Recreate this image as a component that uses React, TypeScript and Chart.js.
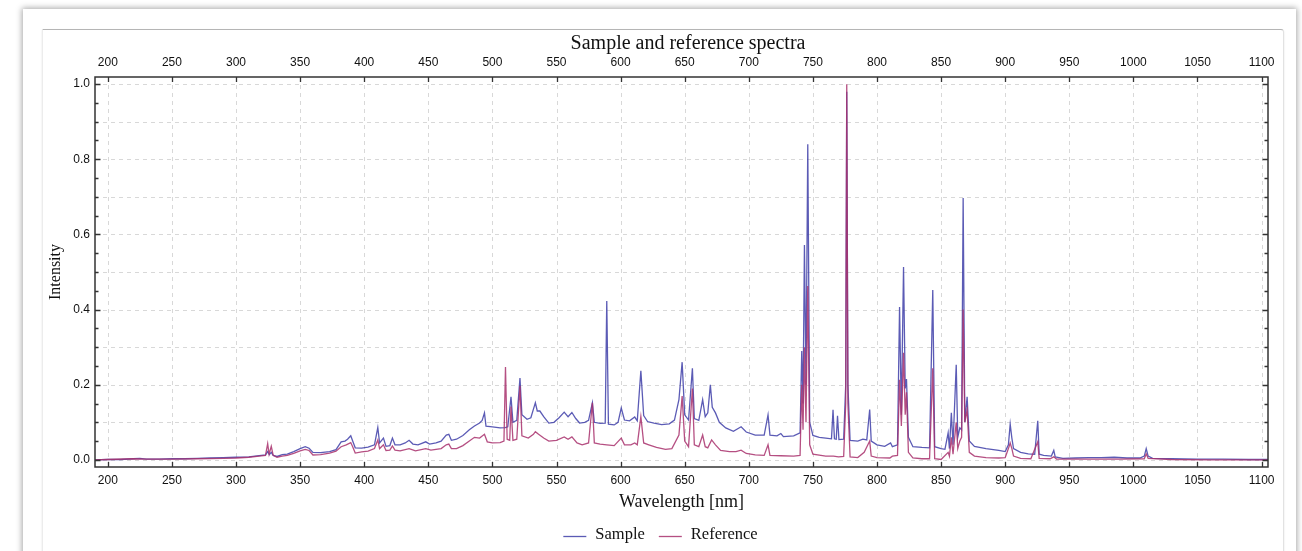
import React, { useEffect, useRef } from 'react';
import { Chart, registerables } from 'chart.js';

Chart.register(...registerables);

// ---- data (wavelength nm, normalized intensity) ----
const samplePoints: [number, number][] = [
  [190, 0.0], [200, 0.001], [210, 0.001], [220, 0.003], [225, 0.004], [230, 0.002], [240, 0.002],
  [250, 0.003], [260, 0.003], [270, 0.004], [280, 0.005], [290, 0.006], [300, 0.007], [310, 0.008],
  [318, 0.011], [323, 0.013], [324.7, 0.022], [326, 0.014], [327.5, 0.02], [329, 0.012], [332, 0.009],
  [336, 0.014], [340, 0.015], [345, 0.022], [350, 0.03], [354, 0.035], [357, 0.031], [360, 0.02],
  [366, 0.019], [373, 0.022], [378, 0.027], [382, 0.048], [385, 0.05], [387, 0.055], [389.5, 0.064],
  [391, 0.05], [393, 0.032], [398, 0.031], [403, 0.034], [408, 0.04], [410.6, 0.086], [412, 0.045],
  [415, 0.058], [417, 0.036], [420, 0.038], [422, 0.058], [424, 0.04], [428, 0.04], [432, 0.045],
  [435, 0.052], [438, 0.042], [442, 0.04], [448, 0.048], [451, 0.042], [456, 0.045], [460, 0.05],
  [464, 0.066], [466, 0.068], [468, 0.052], [472, 0.055], [477, 0.065], [482, 0.08], [486, 0.09],
  [490, 0.098], [492, 0.105], [493.8, 0.125], [495, 0.09], [500, 0.088], [506, 0.085], [510, 0.086],
  [512, 0.088], [514.5, 0.168], [516, 0.1], [519, 0.105], [521.5, 0.218], [523, 0.12], [527, 0.108],
  [530, 0.112], [532, 0.135], [533.5, 0.152], [535, 0.13], [537, 0.13], [540, 0.115], [544, 0.098],
  [548, 0.1], [552, 0.112], [556, 0.127], [559, 0.115], [562, 0.126], [565, 0.11], [568, 0.098],
  [572, 0.1], [575, 0.105], [578, 0.152], [579.5, 0.1], [584, 0.097], [588, 0.098], [589.2, 0.423],
  [590.5, 0.095], [595, 0.093], [598, 0.1], [600.5, 0.138], [603, 0.106], [607, 0.104], [611, 0.114],
  [613, 0.104], [615.8, 0.237], [618, 0.118], [621, 0.102], [626, 0.098], [632, 0.094], [638, 0.096],
  [642, 0.106], [645.5, 0.16], [648, 0.26], [650, 0.12], [653, 0.106], [656, 0.244], [657.5, 0.11],
  [661, 0.105], [664, 0.16], [666, 0.115], [668, 0.125], [670, 0.2], [671.5, 0.14], [674, 0.125],
  [677, 0.1], [682, 0.085], [688, 0.076], [694, 0.088], [698, 0.074], [705, 0.066], [712, 0.066],
  [715, 0.12], [716.5, 0.066], [722, 0.064], [725, 0.07], [727, 0.062], [735, 0.064], [740, 0.072],
  [741.3, 0.29], [742.3, 0.15], [743.4, 0.572], [744.6, 0.2], [746, 0.84], [747.5, 0.1], [750, 0.065],
  [755, 0.06], [760, 0.058], [764.5, 0.056], [765.7, 0.133], [766.8, 0.056], [768.2, 0.055],
  [769.2, 0.117], [770.3, 0.054], [774, 0.055], [775.6, 0.2], [776.4, 0.98], [777.3, 0.2], [779, 0.052],
  [785, 0.05], [789, 0.055], [792, 0.053], [794.3, 0.134], [795.5, 0.05], [800, 0.04], [806, 0.036],
  [810.6, 0.045], [812, 0.035], [816, 0.04], [817.6, 0.407], [819, 0.12], [820.7, 0.513], [822, 0.19],
  [823, 0.215], [824.5, 0.06], [828, 0.035], [835, 0.033], [841, 0.032], [843.5, 0.452], [845, 0.035],
  [850, 0.03], [853, 0.028], [855.5, 0.072], [856.5, 0.03], [858, 0.125], [859.3, 0.04], [861.8, 0.253],
  [863, 0.06], [864.6, 0.085], [866, 0.08], [867.2, 0.697], [868.5, 0.1], [870.3, 0.168], [872, 0.05],
  [876, 0.036], [882, 0.032], [885, 0.03], [895, 0.025], [900, 0.022], [902.5, 0.04], [903.9, 0.095],
  [905.2, 0.058], [906.5, 0.03], [912, 0.02], [918, 0.016], [923, 0.015], [925.4, 0.104], [926.5, 0.015],
  [930, 0.012], [936, 0.01], [937.9, 0.025], [939, 0.008], [945, 0.004], [955, 0.005], [965, 0.006],
  [975, 0.006], [985, 0.007], [995, 0.005], [1005, 0.005], [1008.5, 0.01], [1010, 0.03], [1011.5, 0.01],
  [1015, 0.004], [1030, 0.003], [1050, 0.002], [1070, 0.002], [1090, 0.001], [1105, 0.001],
];

const referencePoints: [number, number][] = [
  [190, 0.0], [200, 0.001], [220, 0.003], [230, 0.002], [250, 0.002], [270, 0.003], [290, 0.004],
  [300, 0.005], [310, 0.007], [318, 0.01], [323, 0.012], [324.7, 0.043], [325.8, 0.015], [327.5, 0.036],
  [329, 0.012], [332, 0.007], [336, 0.01], [340, 0.012], [345, 0.017], [350, 0.024], [354, 0.028],
  [357, 0.025], [360, 0.013], [366, 0.014], [373, 0.018], [378, 0.023], [382, 0.035], [386, 0.04],
  [389.5, 0.046], [391, 0.035], [393, 0.018], [398, 0.021], [403, 0.023], [408, 0.03], [410.6, 0.053],
  [412, 0.03], [415, 0.04], [417, 0.025], [420, 0.026], [422, 0.037], [424, 0.026], [428, 0.024],
  [435, 0.03], [440, 0.024], [448, 0.03], [452, 0.026], [460, 0.03], [464, 0.04], [466, 0.042],
  [468, 0.03], [472, 0.03], [477, 0.038], [482, 0.05], [486, 0.06], [490, 0.058], [493.8, 0.068],
  [496, 0.048], [500, 0.045], [506, 0.046], [509, 0.05], [510.2, 0.247], [511.5, 0.055], [513.5, 0.052],
  [514.5, 0.142], [516, 0.052], [519, 0.055], [521.5, 0.197], [523, 0.064], [528, 0.058], [532, 0.068],
  [533.5, 0.075], [536, 0.068], [540, 0.058], [544, 0.05], [550, 0.052], [556, 0.061], [559, 0.055],
  [562, 0.061], [566, 0.045], [570, 0.04], [575, 0.045], [578, 0.152], [579.5, 0.045], [584, 0.042],
  [589.2, 0.04], [595, 0.038], [600.5, 0.058], [603, 0.04], [608, 0.04], [611, 0.045], [613, 0.04],
  [615.8, 0.115], [618, 0.045], [622, 0.04], [628, 0.033], [635, 0.028], [640, 0.03], [645.5, 0.066],
  [648, 0.17], [650, 0.05], [653, 0.035], [656, 0.19], [657.5, 0.04], [661, 0.035], [664, 0.066],
  [666, 0.035], [668, 0.032], [671, 0.053], [674, 0.04], [678, 0.025], [685, 0.022], [690, 0.022],
  [694, 0.026], [698, 0.017], [705, 0.013], [712, 0.012], [715, 0.04], [716.5, 0.012], [725, 0.011],
  [735, 0.01], [740, 0.012], [741.3, 0.2], [742.3, 0.08], [743.4, 0.3], [744.6, 0.1], [746, 0.463],
  [747.5, 0.04], [750, 0.015], [760, 0.01], [766, 0.01], [770, 0.008], [774, 0.009], [775.6, 0.15],
  [776.4, 1.0], [777.3, 0.15], [779, 0.008], [785, 0.006], [790, 0.02], [794.3, 0.05], [795.5, 0.01],
  [800, 0.006], [810, 0.005], [812, 0.01], [816, 0.012], [817.6, 0.213], [819, 0.09], [820.7, 0.285],
  [822, 0.12], [823, 0.18], [824.5, 0.02], [828, 0.005], [835, 0.003], [841, 0.003], [843.5, 0.244],
  [845, 0.003], [850, 0.001], [855.5, 0.02], [856.5, 0.01], [858, 0.06], [859.3, 0.015], [861.8, 0.1],
  [863, 0.03], [864.6, 0.05], [866, 0.06], [867.2, 0.4], [868.5, 0.1], [870.3, 0.133], [872, 0.02],
  [876, 0.01], [885, 0.006], [895, 0.005], [900, 0.006], [902.5, 0.03], [903.9, 0.045], [905.2, 0.03],
  [906.5, 0.01], [912, 0.004], [920, 0.003], [925.4, 0.048], [926.5, 0.004], [935, 0.003], [937.9, 0.008],
  [940, 0.002], [960, 0.002], [990, 0.002], [1008.5, 0.003], [1010, 0.016], [1011.5, 0.004], [1030, 0.001],
  [1060, 0.0], [1105, 0.0],
];

const seriesLabels = ['Sample', 'Reference'];
const seriesColors = ['rgba(62, 62, 168, 0.85)', 'rgba(168, 48, 108, 0.85)'];

const xTickValues = [200, 250, 300, 350, 400, 450, 500, 550, 600, 650, 700, 750, 800, 850, 900, 950, 1000, 1050, 1100];
const yGridValues = [0, 0.1, 0.2, 0.3, 0.4, 0.5, 0.6, 0.7, 0.8, 0.9, 1.0];
const yLabelValues = [0, 0.2, 0.4, 0.6, 0.8, 1.0];
const yMinorTickValues = [0, 0.05, 0.1, 0.15, 0.2, 0.25, 0.3, 0.35, 0.4, 0.45, 0.5, 0.55, 0.6, 0.65, 0.7, 0.75, 0.8, 0.85, 0.9, 0.95, 1.0];

const titleText = 'Sample and reference spectra';
const xAxisTitle = 'Wavelength [nm]';
const yAxisTitle = 'Intensity';

const SERIF = '"Liberation Serif", "Times New Roman", serif';
const SANS = '"Liberation Sans", Arial, sans-serif';

const isLabelTick = (v: number) => yLabelValues.some((l) => Math.abs(l - v) < 1e-6);

const decorPlugin = {
  id: 'decor',
  beforeDatasetsDraw(chart: any) {
    const { ctx, chartArea, scales } = chart;
    const { left, right, top, bottom } = chartArea;
    ctx.save();
    ctx.strokeStyle = '#d8d8d8';
    ctx.lineWidth = 1;
    ctx.setLineDash([4, 4]);
    xTickValues.forEach((v) => {
      const px = Math.round(scales.x.getPixelForValue(v)) + 0.5;
      ctx.beginPath();
      ctx.moveTo(px, top);
      ctx.lineTo(px, bottom);
      ctx.stroke();
    });
    yGridValues.forEach((v) => {
      const py = Math.round(scales.y.getPixelForValue(v)) + 0.5;
      ctx.beginPath();
      ctx.moveTo(left, py);
      ctx.lineTo(right, py);
      ctx.stroke();
    });
    ctx.restore();
  },
  afterDatasetsDraw(chart: any) {
    const { ctx, chartArea, scales } = chart;
    const { left, right, top, bottom } = chartArea;
    ctx.save();
    ctx.setLineDash([]);
    ctx.strokeStyle = '#333';
    ctx.lineWidth = 1.5;
    ctx.strokeRect(left, top, right - left, bottom - top);
    ctx.lineWidth = 1.3;
    xTickValues.forEach((v) => {
      const px = Math.round(scales.x.getPixelForValue(v)) + 0.5;
      ctx.beginPath();
      ctx.moveTo(px, bottom);
      ctx.lineTo(px, bottom - 5);
      ctx.moveTo(px, top);
      ctx.lineTo(px, top + 5);
      ctx.stroke();
    });
    yMinorTickValues.forEach((v) => {
      const py = Math.round(scales.y.getPixelForValue(v)) + 0.5;
      const len = isLabelTick(v) ? 5.5 : 3.5;
      ctx.beginPath();
      ctx.moveTo(left, py);
      ctx.lineTo(left + len, py);
      ctx.moveTo(right, py);
      ctx.lineTo(right - len, py);
      ctx.stroke();
    });
    ctx.restore();
  },
  afterDraw(chart: any) {
    const { ctx, chartArea } = chart;
    const cx = (chartArea.left + chartArea.right) / 2;
    ctx.save();
    // title
    ctx.fillStyle = '#111';
    ctx.font = `20px ${SERIF}`;
    ctx.textAlign = 'center';
    ctx.textBaseline = 'middle';
    ctx.fillText(titleText, cx + 6.5, 44);
    // legend
    ctx.font = `16.5px ${SERIF}`;
    ctx.textAlign = 'left';
    const lineLen = 23;
    const gapText = 9;
    const gapItem = 14;
    const widths = seriesLabels.map((l) => ctx.measureText(l).width);
    const total = widths.reduce((a, w) => a + lineLen + gapText + w, 0) + gapItem * (seriesLabels.length - 1);
    let x = cx - 21 - total / 2;
    const ly = 535;
    seriesLabels.forEach((label, i) => {
      ctx.strokeStyle = seriesColors[i];
      ctx.lineWidth = 1.3;
      ctx.beginPath();
      ctx.moveTo(x, ly + 1.5);
      ctx.lineTo(x + lineLen, ly + 1.5);
      ctx.stroke();
      x += lineLen + gapText;
      ctx.fillStyle = '#111';
      ctx.fillText(label, x, ly);
      x += widths[i] + gapItem;
    });
    ctx.restore();
  },
};

const xTickOpts = {
  autoSkip: false,
  maxRotation: 0,
  minRotation: 0,
  color: '#111',
  font: { family: SANS, size: 12 },
  callback: (v: any) => String(v),
};

export default function App() {
  const canvasRef = useRef<HTMLCanvasElement | null>(null);

  useEffect(() => {
    if (!canvasRef.current) return;
    const chart = new Chart(canvasRef.current, {
      type: 'line',
      data: {
        datasets: [
          {
            label: seriesLabels[0],
            data: samplePoints.map(([x, y]) => ({ x, y })),
            borderColor: seriesColors[0],
            backgroundColor: seriesColors[0],
            borderWidth: 1.3,
            pointRadius: 0,
            tension: 0,
            order: 1,
          },
          {
            label: seriesLabels[1],
            data: referencePoints.map(([x, y]) => ({ x, y })),
            borderColor: seriesColors[1],
            backgroundColor: seriesColors[1],
            borderWidth: 1.3,
            pointRadius: 0,
            tension: 0,
            order: 0,
          },
        ],
      },
      options: {
        responsive: false,
        animation: false,
        devicePixelRatio: 1,
        layout: { padding: { left: 46, right: 34, top: 0, bottom: 38.2 } },
        plugins: {
          legend: { display: false },
          title: { display: false },
          tooltip: { enabled: false },
        },
        scales: {
          x: {
            type: 'linear',
            position: 'bottom',
            min: 190,
            max: 1105,
            afterBuildTicks: (s: any) => {
              s.ticks = xTickValues.map((v) => ({ value: v }));
            },
            ticks: { ...xTickOpts, padding: 6 },
            grid: { display: false, drawTicks: false },
            border: { display: false },
            title: {
              display: true,
              text: xAxisTitle,
              color: '#111',
              font: { family: SERIF, size: 18 },
              padding: 0,
            },
            afterFit: (s: any) => {
              s.height = 45.8;
            },
          },
          x2: {
            type: 'linear',
            position: 'top',
            min: 190,
            max: 1105,
            afterBuildTicks: (s: any) => {
              s.ticks = xTickValues.map((v) => ({ value: v }));
            },
            ticks: { ...xTickOpts, padding: 7 },
            grid: { display: false, drawTicks: false },
            border: { display: false },
            afterFit: (s: any) => {
              s.height = 77;
            },
          },
          y: {
            type: 'linear',
            position: 'left',
            min: -0.019,
            max: 1.019,
            afterBuildTicks: (s: any) => {
              s.ticks = yGridValues.map((v) => ({ value: v }));
            },
            ticks: {
              color: '#111',
              font: { family: SANS, size: 12 },
              padding: 5,
              callback: (v: any) => (isLabelTick(Number(v)) ? Number(v).toFixed(1) : ''),
            },
            grid: { display: false, drawTicks: false },
            border: { display: false },
            title: {
              display: true,
              text: yAxisTitle,
              color: '#111',
              font: { family: SERIF, size: 16 },
              padding: 0,
            },
            afterFit: (s: any) => {
              s.width = 49;
            },
          },
        },
      } as any,
      plugins: [decorPlugin],
    });
    return () => chart.destroy();
  }, []);

  return (
    <div
      style={{
        position: 'fixed',
        left: 0,
        top: 0,
        width: 1302,
        height: 551,
        background: '#fff',
        overflow: 'hidden',
      }}
    >
      <div
        style={{
          position: 'absolute',
          left: 23,
          top: 9,
          width: 1273,
          height: 600,
          background: '#fff',
          boxShadow: '0 0 6px 1px rgba(0,0,0,0.35)',
        }}
      />
      <div
        style={{
          position: 'absolute',
          left: 42,
          top: 29,
          width: 1240,
          height: 600,
          background: '#fff',
          borderTop: '1px solid #b5b5b5',
          borderLeft: '1px solid #ececec',
          borderRight: '1px solid #e2e2e2',
          borderTopRightRadius: 3,
          boxShadow: '0 1px 2px rgba(0,0,0,0.12)',
        }}
      />
      <canvas
        ref={canvasRef}
        width={1302}
        height={551}
        style={{ position: 'absolute', left: 0, top: 0, width: 1302, height: 551 }}
      />
    </div>
  );
}
